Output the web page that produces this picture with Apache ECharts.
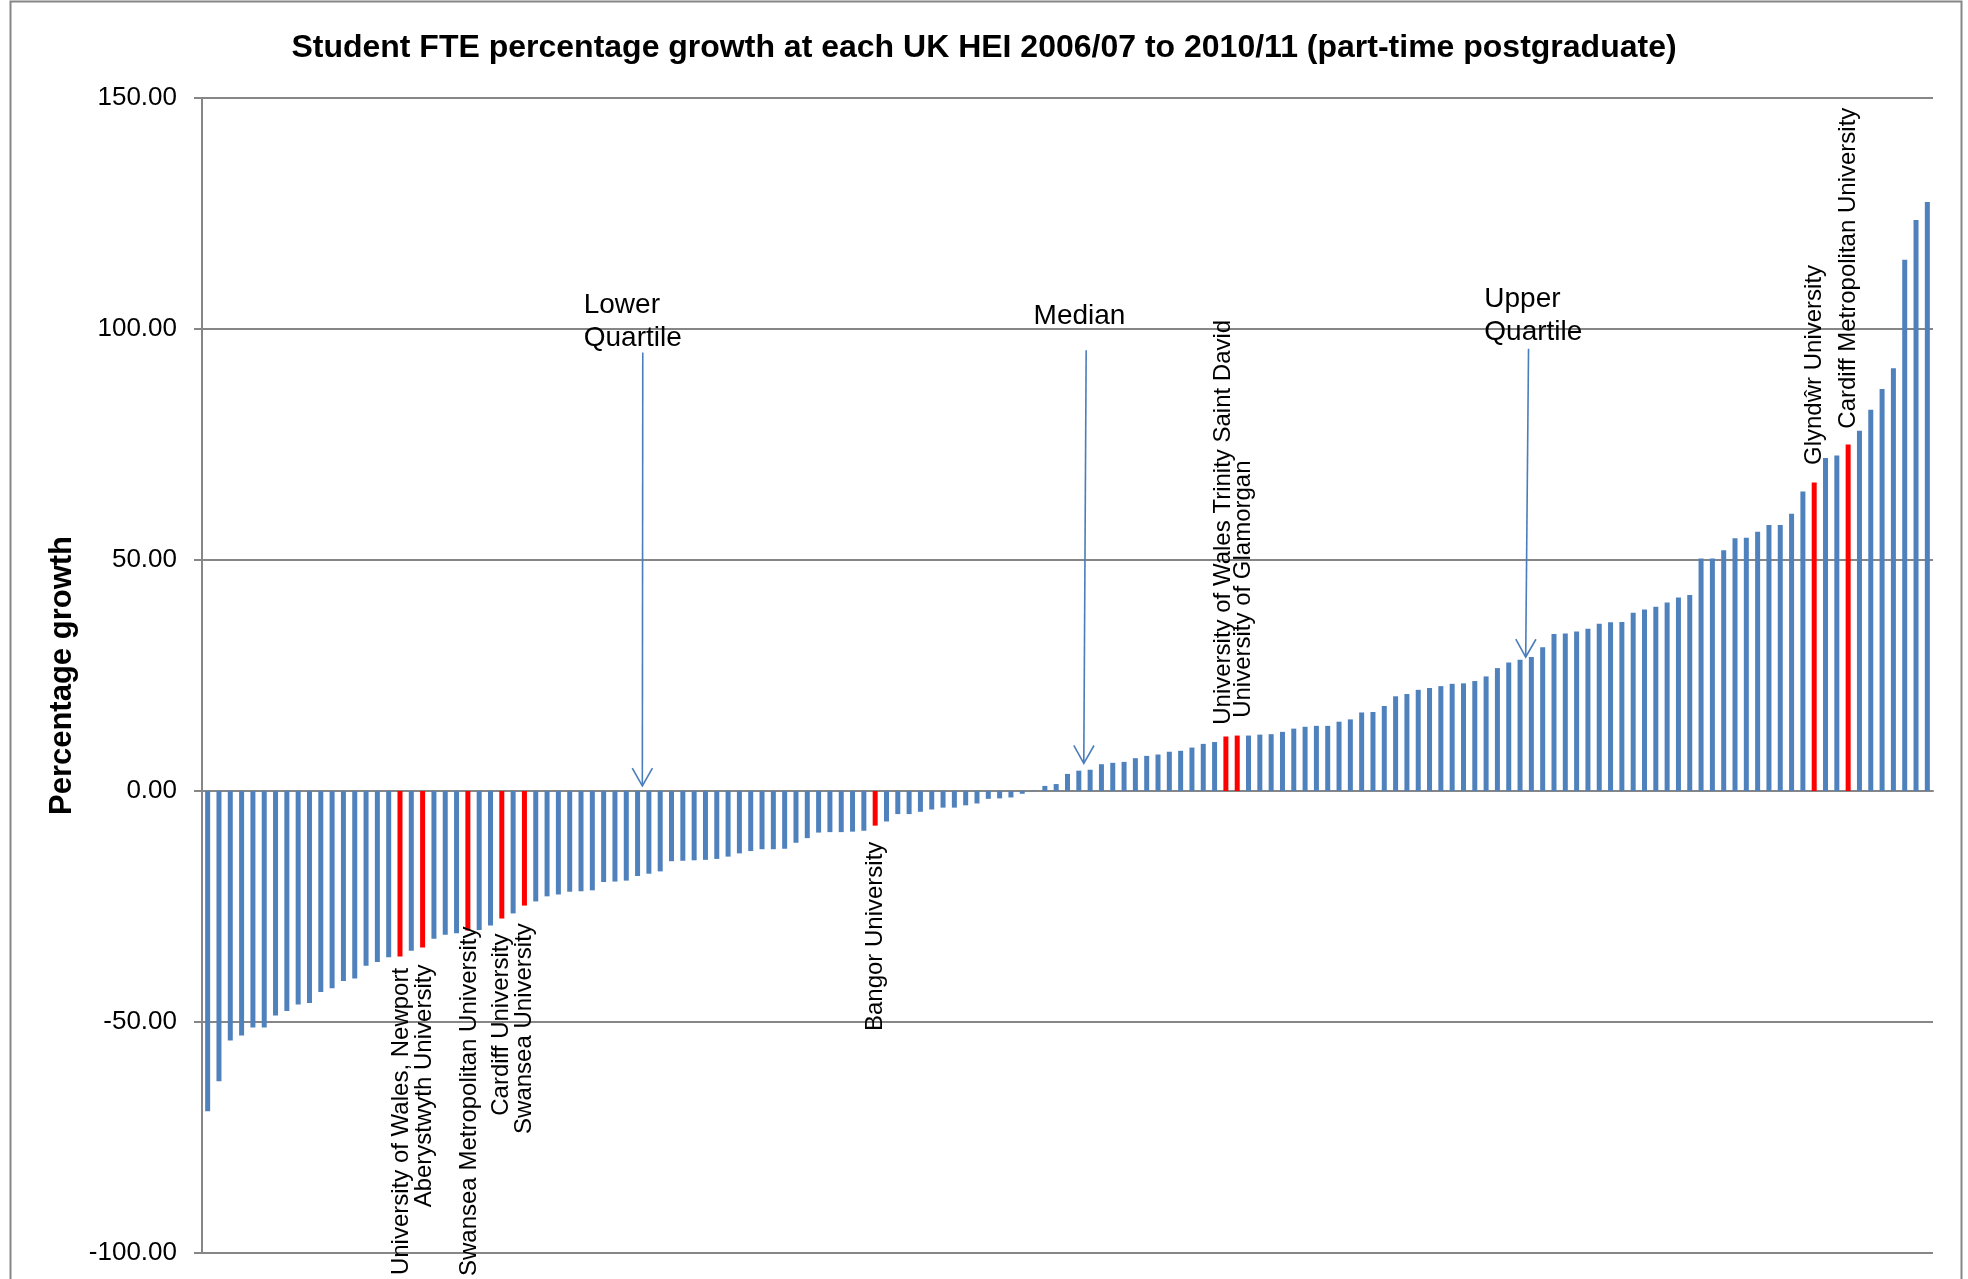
<!DOCTYPE html>
<html>
<head>
<meta charset="utf-8">
<title>Student FTE percentage growth</title>
<script src="https://cdn.jsdelivr.net/npm/echarts@6/dist/echarts.min.js"></script>
<style>
html, body { margin: 0; padding: 0; background: #ffffff; }
#chart { width: 1968px; height: 1279px; }
</style>
</head>
<body>
<div id="chart"></div>
<script>
// ---- data ----
const chartTitle = 'Student FTE percentage growth at each UK HEI 2006/07 to 2010/11 (part-time postgraduate)';
const yAxisTitle = 'Percentage growth';
const yTicks = { min: -100, max: 150, interval: 50 };

const growth = [
  -69.3, -62.8, -54.0, -52.9, -51.2, -51.2, -48.6, -47.6, -46.2, -45.9,
  -43.5, -42.7, -41.1, -40.6, -37.8, -37.0, -36.0, -35.8, -34.6, -33.9,
  -32.0, -31.1, -30.8, -30.2, -30.1, -29.1, -27.6, -26.5, -24.8, -23.9,
  -22.8, -22.4, -21.8, -21.7, -21.5, -19.7, -19.6, -19.4, -18.4, -17.9,
  -17.4, -15.2, -15.1, -15.0, -14.9, -14.7, -14.2, -13.5, -13.0, -12.6,
  -12.6, -12.5, -11.2, -10.2, -9.0, -8.9, -8.9, -8.8, -8.6, -7.5,
  -6.6, -5.0, -5.0, -4.5, -4.0, -3.6, -3.6, -3.1, -2.7, -1.7,
  -1.6, -1.4, -0.6, 0.1, 1.1, 1.5, 3.7, 4.4, 4.6, 5.8,
  6.1, 6.3, 7.1, 7.6, 7.9, 8.5, 8.7, 9.4, 10.2, 10.6,
  11.8, 12.0, 12.0, 12.2, 12.3, 12.8, 13.5, 13.9, 14.1, 14.1,
  15.0, 15.5, 17.0, 17.1, 18.4, 20.5, 21.0, 21.9, 22.3, 22.7,
  23.2, 23.3, 23.8, 24.8, 26.6, 27.8, 28.4, 29.0, 31.1, 34.0,
  34.1, 34.5, 35.1, 36.2, 36.5, 36.6, 38.6, 39.3, 39.9, 40.8,
  41.9, 42.4, 50.3, 50.3, 52.1, 54.7, 54.8, 56.1, 57.6, 57.6,
  60.0, 64.8, 66.8, 72.1, 72.6, 75.0, 78.0, 82.5, 87.0, 91.5,
  115.0, 123.6, 127.5
];

// Welsh HEIs highlighted in red (index into growth)
const highlightIndex = [17, 19, 23, 26, 28, 59, 90, 91, 142, 145];
const highlightName = [
  'University of Wales, Newport',
  'Aberystwyth University',
  'Swansea Metropolitan University',
  'Cardiff University',
  'Swansea University',
  'Bangor University',
  'University of Wales Trinity Saint David',
  'University of Glamorgan',
  'Glyndŵr University',
  'Cardiff Metropolitan University'
];

// annotation texts and where they point (category position, value)
const annoText = ['Lower\nQuartile', 'Median', 'Upper\nQuartile'];
const annoTextAt = [[33.74, 108.8], [73.5, 106.4], [113.34, 109.9]];
const annoArrowFrom = [[38.96, 94.9], [78.15, 95.4], [117.25, 95.7]];
const annoArrowTo = [[38.92, 1.1], [77.94, 6.0], [117.0, 29.0]];

// ---- styles ----
const FONT = '"Liberation Sans", Arial, Helvetica, sans-serif';
const BLUE = '#4f81bd';
const RED = '#ff0000';
const GREY = '#868686';
const labelGap = [11.5, 17, -4, 15, 17.6, 16, 11.7, 17.7, 17.4, 15.8];
// sideways nudge of rotated labels (local y of rotated text = screen x)
const labelShift = [1.5, 2, 2, 0, 0, 0, -3, 6, 0, 0];

const categories = growth.map((v, i) => {
  const k = highlightIndex.indexOf(i);
  return k >= 0 ? highlightName[k] : 'HEI ' + (i + 1);
});

const barData = growth.map((v, i) => {
  const k = highlightIndex.indexOf(i);
  if (k < 0) return v;
  const neg = v < 0;
  return {
    value: v,
    itemStyle: { color: RED },
    label: {
      show: true,
      formatter: highlightName[k],
      position: neg ? 'bottom' : 'top',
      rotate: 90,
      align: neg ? 'right' : 'left',
      verticalAlign: 'middle',
      distance: labelGap[k],
      offset: [0, labelShift[k]],
      fontFamily: FONT,
      fontSize: 24,
      color: '#000000'
    }
  };
});

const chart = echarts.init(document.getElementById('chart'), null, { renderer: 'canvas' });

chart.setOption({
  animation: false,
  backgroundColor: '#ffffff',
  title: {
    text: chartTitle,
    left: 'center',
    top: 27,
    textStyle: { fontFamily: FONT, fontSize: 32, fontWeight: 'bold', color: '#000000' }
  },
  graphic: [{
    type: 'rect',
    shape: { x: 10.5, y: 1.5, width: 1951, height: 1300 },
    style: { fill: null, stroke: GREY, lineWidth: 2 },
    silent: true,
    z: -10
  }],
  grid: { left: 202, right: 35, top: 98, bottom: 26, containLabel: false },
  xAxis: [{
    type: 'category',
    data: categories,
    axisLine: { show: true, onZero: true, lineStyle: { color: GREY, width: 2 } },
    axisTick: { show: false },
    axisLabel: { show: false },
    splitLine: { show: false }
  }, {
    type: 'value',
    min: 0,
    max: growth.length,
    show: false
  }],
  yAxis: {
    type: 'value',
    min: yTicks.min,
    max: yTicks.max,
    interval: yTicks.interval,
    name: yAxisTitle,
    nameLocation: 'middle',
    nameRotate: 90,
    nameGap: 122,
    nameTextStyle: { fontFamily: FONT, fontSize: 31, fontWeight: 'bold', color: '#000000' },
    axisLine: { show: true, lineStyle: { color: GREY, width: 2 } },
    axisTick: { show: true, inside: false, length: 8, lineStyle: { color: GREY, width: 2 } },
    axisLabel: {
      margin: 25,
      fontFamily: FONT,
      fontSize: 26,
      color: '#000000',
      formatter: v => v.toFixed(2)
    },
    splitLine: { show: true, lineStyle: { color: GREY, width: 2 } }
  },
  series: [{
    type: 'bar',
    data: barData,
    barWidth: 5,
    itemStyle: { color: BLUE },
    xAxisIndex: 0,
    yAxisIndex: 0,
    z: 2
  }, {
    type: 'custom',
    xAxisIndex: 1,
    yAxisIndex: 0,
    clip: false,
    silent: true,
    z: 5,
    data: annoArrowTo.map(p => [p[0], p[1]]),
    encode: { x: 0, y: 1 },
    renderItem: function (params, api) {
      const i = params.dataIndex;
      const p1 = api.coord(annoArrowFrom[i]);
      const p2 = api.coord(annoArrowTo[i]);
      const tp = api.coord(annoTextAt[i]);
      const ang = Math.atan2(p2[1] - p1[1], p2[0] - p1[0]);
      const L = 20.5, spread = 0.515;
      const w1 = [p2[0] - L * Math.cos(ang - spread), p2[1] - L * Math.sin(ang - spread)];
      const w2 = [p2[0] - L * Math.cos(ang + spread), p2[1] - L * Math.sin(ang + spread)];
      return {
        type: 'group',
        children: [
          { type: 'line', shape: { x1: p1[0], y1: p1[1], x2: p2[0], y2: p2[1] },
            style: { stroke: '#4a7ebb', lineWidth: 1.6 } },
          { type: 'polyline', shape: { points: [w1, p2, w2] },
            style: { stroke: '#4a7ebb', lineWidth: 1.6, fill: null } },
          { type: 'text', x: tp[0], y: tp[1],
            style: { text: annoText[i], fontFamily: FONT, fontSize: 28, fill: '#000000',
                     align: 'left', verticalAlign: 'top', lineHeight: 33 } }
        ]
      };
    }
  }]
});
</script>
</body>
</html>
